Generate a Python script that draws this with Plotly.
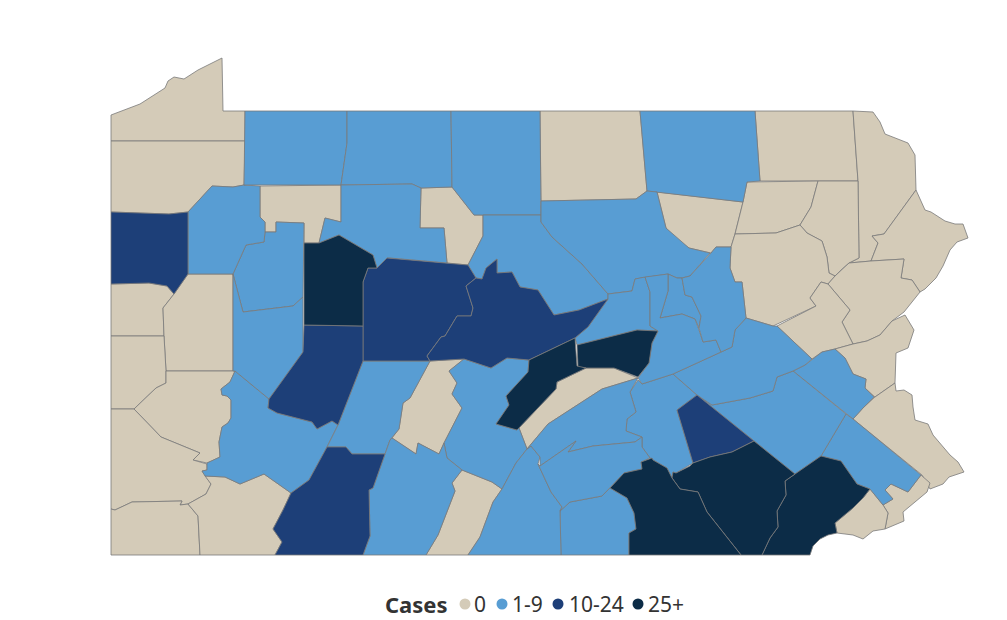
import plotly.graph_objects as go

# county outlines, in map units (x right, y down)
outlines = {
    "Erie": [(111,115),(140,104),(165,88),(168,81),(174,77),(184,79),(198,70),(222,58),(223,111),(245,111),(245,141),(111,141)],
    "Crawford": [(111,141),(245,141),(244,185),(233,187),(212,186),(188,212),(169,214),(111,212)],
    "Mercer": [(111,212),(169,214),(188,212),(188,274),(174,294),(167,286),(149,283),(111,284)],
    "Lawrence": [(111,284),(149,283),(167,286),(174,294),(163,308),(164,336),(111,336)],
    "Butler": [(188,274),(233,274),(233,371),(166,371),(164,336),(163,308),(174,294)],
    "Beaver": [(111,336),(164,336),(166,371),(166,383),(156,388),(134,409),(111,409)],
    "Allegheny": [(166,371),(235,371),(230,382),(221,389),(222,395),(227,396),(231,400),(231,418),(228,423),(222,427),(219,442),(220,457),(207,463),(193,460),(200,453),(161,437),(134,409),(156,388),(166,383)],
    "Washington": [(111,409),(134,409),(161,437),(200,453),(193,460),(207,464),(207,470),(202,471),(211,484),(206,494),(188,504),(180,505),(182,501),(132,502),(115,510),(111,509)],
    "Greene": [(111,509),(115,510),(132,502),(182,501),(180,505),(188,504),(198,516),(200,555),(111,555)],
    "Fayette": [(188,504),(206,494),(211,484),(205,476),(225,477),(240,484),(264,474),(291,493),(283,510),(273,529),(282,542),(275,555),(200,555),(198,516)],
    "Westmoreland": [(235,371),(269,399),(268,408),(277,413),(312,422),(317,429),(332,421),(338,425),(327,447),(309,480),(291,493),(264,474),(240,484),(225,477),(205,476),(202,471),(207,470),(207,463),(220,457),(219,442),(222,427),(228,423),(231,418),(231,400),(227,396),(222,395),(221,389),(230,382)],
    "Clarion": [(246,245),(233,274),(243,312),(293,306),(303,297),(304,243),(304,223),(276,222),(276,232),(265,232),(264,242)],
    "Armstrong": [(233,274),(243,312),(293,306),(303,297),(303,352),(269,399),(235,371),(233,371)],
    "Venango": [(212,186),(233,187),(244,185),(260,186),(260,217),(265,222),(265,232),(264,242),(246,245),(233,274),(188,274),(188,212)],
    "Forest": [(260,186),(341,185),(341,222),(325,218),(319,243),(304,243),(304,223),(276,222),(276,232),(265,232),(265,222),(260,217)],
    "Jefferson": [(304,243),(319,243),(339,235),(373,255),(377,268),(368,268),(363,282),(363,326),(304,325)],
    "Warren": [(245,111),(347,111),(347,143),(341,185),(244,185)],
    "McKean": [(347,111),(451,111),(452,187),(421,188),(412,184),(341,185),(347,143)],
    "Potter": [(451,111),(540,111),(541,215),(483,215),(474,215),(452,187)],
    "Tioga": [(540,111),(640,111),(647,191),(636,199),(541,201)],
    "Bradford": [(640,111),(755,111),(760,181),(747,182),(743,202),(657,192),(647,191)],
    "Cameron": [(421,188),(420,228),(444,228),(447,263),(468,265),(483,236),(483,215),(474,215),(452,187)],
    "Elk": [(341,185),(412,184),(421,188),(420,228),(444,228),(447,263),(390,258),(387,258),(377,268),(373,255),(339,235),(319,243),(325,218),(341,222)],
    "Clearfield": [(387,258),(447,263),(468,265),(476,278),(466,286),(473,308),(471,316),(457,316),(445,336),(441,337),(427,356),(430,361),(363,361),(363,282),(368,268),(377,268)],
    "Centre": [(476,278),(482,279),(486,268),(497,259),(497,273),(512,272),(520,287),(538,290),(554,315),(579,310),(608,299),(588,327),(575,338),(529,360),(507,358),(491,368),(464,359),(430,361),(427,356),(441,337),(445,336),(457,316),(471,316),(473,308),(466,286)],
    "Clinton": [(468,265),(483,236),(483,215),(541,215),(541,222),(552,237),(582,264),(608,294),(608,299),(579,310),(554,315),(538,290),(520,287),(512,272),(497,273),(497,259),(486,268),(482,279),(476,278)],
    "Lycoming": [(541,201),(636,199),(647,191),(657,192),(666,228),(689,248),(710,253),(690,276),(682,278),(677,278),(668,274),(645,277),(635,279),(632,291),(608,294),(582,264),(552,237),(541,222)],
    "Sullivan": [(657,192),(743,202),(735,234),(731,247),(716,247),(711,253),(689,248),(680,242),(666,228)],
    "Susquehanna": [(755,111),(853,111),(858,181),(760,181)],
    "Wayne": [(853,111),(873,112),(880,122),(885,134),(908,143),(915,155),(916,190),(884,234),(872,236),(878,243),(871,261),(849,263),(859,258),(858,181)],
    "Pike": [(916,190),(925,210),(931,212),(945,221),(955,224),(963,224),(968,238),(957,242),(950,250),(943,266),(936,278),(925,289),(920,292),(912,280),(901,278),(904,259),(871,261),(878,243),(872,236),(884,234)],
    "Wyoming": [(747,182),(818,181),(811,207),(800,225),(776,233),(735,234),(743,202)],
    "Lackawanna": [(818,181),(858,181),(859,258),(849,263),(841,270),(835,276),(829,273),(827,257),(822,241),(807,233),(800,225),(811,207)],
    "Luzerne": [(735,234),(776,233),(800,225),(807,233),(822,241),(827,257),(829,273),(835,276),(828,284),(821,282),(810,298),(816,306),(773,326),(746,318),(742,282),(735,282),(730,268),(731,247)],
    "Monroe": [(835,276),(849,263),(871,261),(904,259),(901,278),(912,280),(920,292),(904,312),(892,321),(880,335),(867,341),(853,344),(842,322),(850,310),(828,284)],
    "Carbon": [(828,284),(850,310),(842,322),(853,344),(835,349),(822,352),(812,359),(777,326),(816,306),(810,298),(821,282)],
    "Northampton": [(905,315),(914,330),(908,348),(896,353),(895,383),(875,397),(865,388),(866,379),(853,374),(845,358),(835,349),(853,344),(867,341),(880,335),(892,321)],
    "Lehigh": [(835,349),(845,358),(853,374),(866,379),(865,388),(874,397),(863,408),(853,419),(793,371),(805,365),(822,352)],
    "Bucks": [(875,397),(895,383),(896,391),(904,390),(912,395),(913,407),(915,420),(928,424),(933,435),(950,455),(958,462),(964,472),(949,477),(943,484),(930,489),(922,475),(853,419),(863,408)],
    "Montgomery": [(846,414),(853,419),(921,475),(908,492),(891,484),(885,490),(893,499),(883,505),(870,489),(857,484),(841,461),(821,456)],
    "Philadelphia": [(921,475),(930,483),(927,492),(903,512),(904,521),(893,526),(885,529),(888,513),(883,505),(893,499),(885,490),(891,484),(908,492)],
    "Delaware": [(870,489),(883,505),(888,513),(885,529),(873,531),(863,539),(853,535),(837,533),(835,523),(853,508),(863,498)],
    "Chester": [(795,474),(821,456),(841,461),(857,484),(870,489),(863,498),(853,508),(835,523),(837,533),(828,535),(820,539),(813,546),(810,555),(762,555),(770,538),(778,527),(777,511),(786,495),(785,481)],
    "Lancaster": [(754,441),(795,474),(785,481),(786,495),(777,511),(778,527),(770,538),(762,555),(741,555),(707,512),(698,492),(680,489),(672,478),(673,472),(676,473),(690,466),(693,463),(710,457),(732,452)],
    "York": [(610,488),(624,473),(642,469),(641,462),(652,458),(653,460),(667,468),(672,478),(680,489),(698,492),(707,512),(741,555),(629,555),(629,533),(636,529),(634,513),(627,498)],
    "Adams": [(610,488),(627,498),(634,513),(636,529),(629,533),(629,555),(561,555),(560,511),(570,502),(602,496)],
    "Dauphin": [(638,380),(642,384),(673,374),(697,395),(677,410),(693,463),(676,473),(673,472),(672,478),(667,468),(653,460),(650,458),(642,447),(642,437),(626,431),(627,419),(636,412),(630,392)],
    "Lebanon": [(697,395),(754,441),(732,452),(710,457),(693,463),(677,410)],
    "Berks": [(697,395),(712,405),(750,398),(773,391),(777,377),(793,371),(846,414),(821,456),(795,474),(754,441)],
    "Schuylkill": [(673,374),(720,352),(732,347),(735,330),(746,318),(773,326),(777,326),(812,359),(805,365),(793,371),(777,377),(773,391),(750,398),(712,405),(697,395)],
    "Union": [(608,294),(632,291),(635,279),(645,277),(650,292),(650,326),(658,331),(637,330),(577,345),(575,338),(588,327),(608,299)],
    "Snyder": [(577,345),(637,330),(658,331),(652,343),(649,363),(638,377),(614,368),(586,368),(578,367)],
    "Mifflin": [(575,338),(577,366),(586,368),(557,382),(556,389),(517,430),(496,424),(509,405),(506,396),(528,372),(529,360)],
    "Juniata": [(586,368),(614,368),(638,378),(602,389),(548,424),(527,449),(519,428),(517,430),(556,389),(557,382)],
    "Huntingdon": [(464,359),(491,368),(507,358),(529,360),(528,372),(506,396),(509,405),(496,424),(517,430),(519,428),(527,449),(516,463),(502,489),(492,482),(462,470),(447,458),(444,443),(462,408),(452,394),(457,383),(449,371)],
    "Blair": [(430,361),(464,359),(449,371),(457,383),(452,394),(462,408),(444,443),(439,454),(418,443),(416,454),(392,438),(399,429),(403,403),(410,398)],
    "Cambria": [(363,361),(430,361),(410,398),(403,403),(399,429),(392,438),(390,440),(385,454),(352,454),(346,447),(327,447),(338,425)],
    "Indiana": [(304,325),(363,326),(363,361),(338,425),(332,421),(317,429),(312,422),(277,413),(268,408),(269,399),(303,352)],
    "Bedford": [(385,454),(390,440),(392,438),(416,454),(418,443),(439,454),(444,443),(447,458),(462,470),(452,483),(455,491),(438,535),(426,555),(363,555),(370,536),(369,490),(373,488)],
    "Somerset": [(327,447),(346,447),(352,454),(385,454),(373,488),(369,490),(370,536),(363,555),(275,555),(282,542),(273,529),(283,510),(291,493),(309,480)],
    "Fulton": [(462,470),(492,482),(502,489),(493,502),(480,537),(468,555),(426,555),(438,535),(455,491),(452,483)],
    "Franklin": [(502,489),(516,463),(527,449),(531,446),(540,457),(538,464),(551,492),(562,507),(560,511),(561,555),(468,555),(480,537),(493,502)],
    "Perry": [(527,449),(548,424),(602,389),(638,378),(630,392),(636,412),(627,419),(626,431),(642,437),(635,442),(593,446),(568,452),(576,441),(540,466),(540,457),(531,446)],
    "Cumberland": [(540,466),(576,441),(568,452),(593,446),(635,442),(642,437),(642,447),(650,458),(641,462),(642,469),(624,473),(610,488),(602,496),(570,502),(560,511),(562,507),(551,492),(538,464)],
    "Montour": [(668,274),(677,278),(682,278),(685,295),(692,297),(701,316),(699,328),(695,319),(682,314),(660,318),(668,291)],
    "Northumberland": [(645,277),(668,274),(668,291),(660,318),(682,314),(695,319),(699,330),(703,342),(716,340),(721,352),(673,374),(642,384),(638,378),(649,363),(652,343),(658,331),(650,326),(650,292)],
    "Columbia": [(682,278),(690,276),(711,253),(716,247),(731,247),(730,268),(735,282),(742,282),(746,318),(735,330),(732,347),(721,352),(716,340),(703,342),(699,328),(701,316),(692,297),(685,295)],
}

case_labels = ["0", "1-9", "10-24", "25+"]
case_colors = ["#d4cbb8", "#589dd3", "#1d3f78", "#0c2c47"]

counties_0 = ["Erie", "Crawford", "Lawrence", "Butler", "Beaver", "Allegheny", "Washington", "Greene", "Fayette",
              "Forest", "Tioga", "Cameron", "Sullivan", "Susquehanna", "Wayne", "Pike", "Wyoming", "Lackawanna",
              "Luzerne", "Monroe", "Carbon", "Northampton", "Bucks", "Philadelphia", "Delaware", "Juniata", "Blair", "Fulton"]
counties_1_9 = ["Westmoreland", "Clarion", "Armstrong", "Venango", "Warren", "McKean", "Potter", "Bradford", "Elk",
                "Clinton", "Lycoming", "Lehigh", "Montgomery", "Adams", "Dauphin", "Berks", "Schuylkill", "Union",
                "Huntingdon", "Cambria", "Bedford", "Franklin", "Perry", "Cumberland", "Montour", "Northumberland", "Columbia"]
counties_10_24 = ["Mercer", "Clearfield", "Centre", "Indiana", "Somerset", "Lebanon"]
counties_25 = ["Jefferson", "Snyder", "Mifflin", "Chester", "Lancaster", "York"]
county_groups = [counties_0, counties_1_9, counties_10_24, counties_25]

fig = go.Figure()

for label, color, group in zip(case_labels, case_colors, county_groups):
    for name in group:
        pts = outlines[name] + [outlines[name][0]]
        fig.add_trace(go.Scatter(
            x=[p[0] for p in pts],
            y=[p[1] for p in pts],
            mode="lines",
            fill="toself",
            fillcolor=color,
            line=dict(color="#7a7a7a", width=0.8),
            name=name,
            text=f"{name}: {label}",
            hoverinfo="text",
            hoveron="fills",
            showlegend=False,
        ))

# plotly's own legend leaves too wide a gap after the marker, so this one is drawn by hand
key_y = 604
key_marker_x = [465, 502, 558, 638]
key_text_x = [474, 512, 569, 648]
fig.add_trace(go.Scatter(
    x=key_marker_x,
    y=[key_y] * len(key_marker_x),
    mode="markers",
    marker=dict(color=case_colors, size=11, symbol="circle"),
    hoverinfo="skip",
    showlegend=False,
))
for label, tx in zip(case_labels, key_text_x):
    fig.add_annotation(x=tx, y=key_y, text=label, showarrow=False, xanchor="left", yanchor="middle",
                       xshift=-2, font=dict(family="Noto Sans", size=21, color="#333333"))
fig.add_annotation(x=385, y=key_y, text="<b>Cases</b>", showarrow=False, xanchor="left", yanchor="middle",
                   xshift=-2, font=dict(family="Noto Sans", size=22, color="#333333"))

# the page body keeps its 8px margin, so the plot only covers 8..1007 / 8..620 of the window
fig.update_layout(
    width=999,
    height=612,
    margin=dict(l=0, r=0, t=0, b=0),
    paper_bgcolor="white",
    plot_bgcolor="white",
    xaxis=dict(range=[8, 1007], visible=False, fixedrange=True),
    yaxis=dict(range=[620, 8], visible=False, fixedrange=True),
    showlegend=False,
)

fig.write_html("out.html")
